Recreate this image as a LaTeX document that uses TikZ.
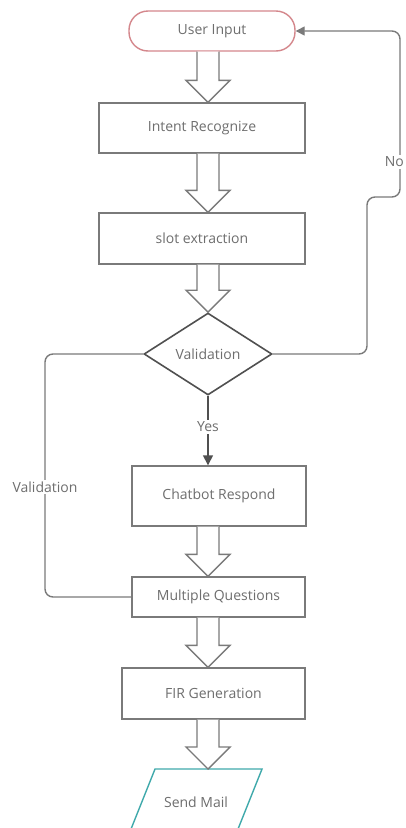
\documentclass[tikz,border=0pt]{standalone}
\usepackage{fontspec}
\setmainfont{Open Sans}
\usetikzlibrary{calc,shapes.geometric,arrows.meta}

\definecolor{edge}{HTML}{7A7A7A}
\definecolor{ink}{HTML}{6E6E6E}
\definecolor{dark}{HTML}{505050}
\definecolor{rose}{HTML}{D4878C}
\definecolor{teal}{HTML}{3FA9AB}

\tikzset{
  base/.style={font=\fontsize{14}{17}\selectfont, text=ink, inner sep=0pt},
  proc/.style={base, draw=edge, line width=1.4pt, fill=white},
  start/.style={base, draw=rose, line width=1.4pt, rounded corners=19pt, fill=white},
  decide/.style={base, diamond, draw=dark, line width=1.6pt, aspect=1.56, fill=white},
  fatarr/.style={draw=edge, line width=1.4pt, fill=white, line join=miter},
  link/.style={draw=edge, line width=1.4pt, rounded corners=8pt},
  tag/.style={base, fill=white, inner sep=2pt},
}

% hollow block arrow between two nodes, along the column x = 208
\newcommand\fatarrow[2]{%
  \draw[fatarr] let \p1=(ax |- #1.south), \p2=(ax |- #2.north) in
    (\x1-11pt,\y1) -- (\x1-11pt,\y2+22pt) -- (\x1-22pt,\y2+22pt) -- (\x1,\y2)
    -- (\x1+22pt,\y2+22pt) -- (\x1+11pt,\y2+22pt) -- (\x1+11pt,\y1);}

\begin{document}
\begin{tikzpicture}[x=1pt,y=-1pt]
\useasboundingbox (0,0) rectangle (406,828);
\clip (0,0) rectangle (406,828);
\fill[white] (0,0) rectangle (406,828);

\coordinate (ax) at (208,0);

% process nodes
\node[start, minimum width=166, minimum height=40] (user) at (212,31) {User Input};
\node[proc, minimum width=206, minimum height=50] (intent) at (202,128) {Intent Recognize};
\node[proc, minimum width=206, minimum height=51] (slot) at (202,238.5) {slot extraction};
\node[decide, minimum width=128, minimum height=82] (dia) at (208,354) {Validation};
\node[proc, minimum width=174, minimum height=60] (chat) at (219,496) {Chatbot Respond};
\node[proc, minimum width=173, minimum height=40] (mq) at (218.5,597) {Multiple Questions};
\node[proc, minimum width=183, minimum height=51] (fir) at (213.5,693.5) {FIR Generation};

% output parallelogram
\coordinate (m1) at (155,769);
\coordinate (m2) at (262,769);
\coordinate (m3) at (234,839);
\coordinate (m4) at (127,839);
\draw[draw=teal, line width=1.4pt, fill=white] (m1) -- (m2) -- (m3) -- (m4) -- cycle;
\node[base] (mail) at (196,802) {Send Mail};
\coordinate (mailtop) at (208,769);

% block arrows down the main column
\fatarrow{user}{intent}
\fatarrow{intent}{slot}
\fatarrow{slot}{dia}
\fatarrow{chat}{mq}
\fatarrow{mq}{fir}
\draw[fatarr] let \p1=(ax |- fir.south), \p2=(mailtop) in
    (\x1-11pt,\y1) -- (\x1-11pt,\y2+22pt) -- (\x1-22pt,\y2+22pt) -- (\x1,\y2)
    -- (\x1+22pt,\y2+22pt) -- (\x1+11pt,\y2+22pt) -- (\x1+11pt,\y1);

% Yes branch
\draw[draw=edge, line width=1.4pt, -{Triangle[width=10pt,length=10pt]}, color=dark]
  (dia.south) -- (dia.south |- chat.north);
\node[tag] (yes) at (208,427) {Yes};

% No branch back to the input
\draw[link, -{Triangle[width=9pt,length=9pt]}]
  (dia.east) -- (367,354) -- (367,197) -- (400,197) -- (400,31) -- (user.east);
\node[tag, anchor=east] (no) at (406,162) {No};

% Validation loop from the questions back to the check
\draw[link] (dia.west) -- (45,354) -- (45,597) -- (mq.west);
\node[tag] (val) at (45,487) {Validation};
\end{tikzpicture}
\end{document}
